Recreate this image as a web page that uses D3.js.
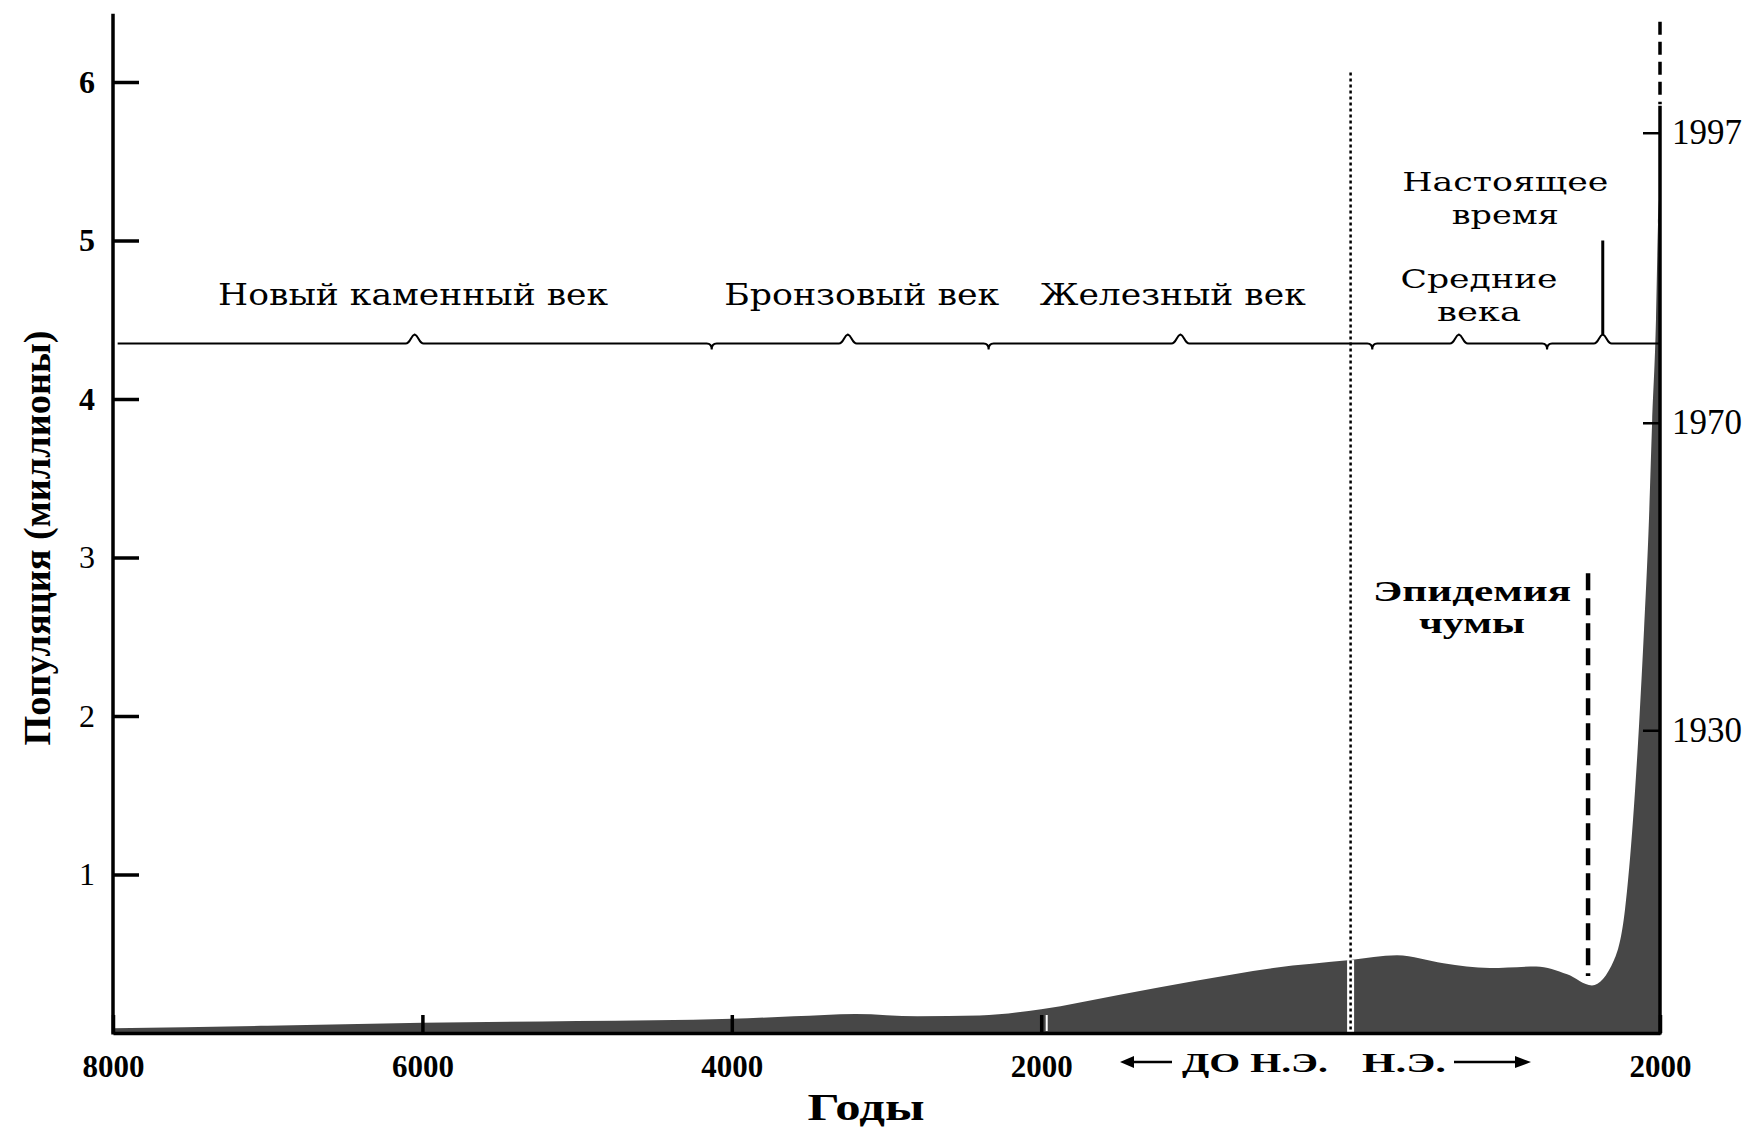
<!DOCTYPE html>
<html>
<head>
<meta charset="utf-8">
<script src="https://cdn.jsdelivr.net/npm/d3@7/dist/d3.min.js"></script>
<style>
  html, body { margin: 0; padding: 0; background: #fff; }
  svg { display: block; }
</style>
</head>
<body>
<svg id="chart" width="1756" height="1136"></svg>
<script>
// ---------- data ----------
const years = [-8000,-7000,-6000,-5000,-4000,-3600,-3200,-2800,-2400,-2000,-1500,-1000,-500,0,300,600,900,1200,1400,1560,1703,1774,1826,1865,1897,1929,1949,1974,1987,2000];
const population = [0.03,0.045,0.065,0.075,0.09,0.105,0.12,0.105,0.11,0.15,0.24,0.33,0.41,0.46,0.49,0.44,0.41,0.42,0.37,0.30,0.46,0.78,1.35,1.95,2.55,3.25,3.85,4.50,5.10,5.32];

const xTickValues = [-8000,-6000,-4000,-2000,2000];
const yTickValues = [1,2,3,4,5,6];
const rightTickValues = [1.91, 3.85, 5.68];
const rightTickLabels = ["1930","1970","1997"];

const eraNames = ["Новый каменный век","Бронзовый век","Железный век"];
const eraCenters = [-6060,-3160,-1150];
const braceTips = [-6050,-3250,-1100,700,1630];
const braceEnds = [-4130,-2340,140,1270];
const plagueYear = 1535;
const eraDivide = 0;

// ---------- scales ----------
const svg = d3.select("#chart");
const x = d3.scaleLinear().domain([-8000, 2000]).range([113, 1660]);
const y = d3.scaleLinear().domain([0, 6]).range([1033, 82]);

const serif = "'Liberation Serif', 'Times New Roman', serif";
const dserif = "'DejaVu Serif', serif";

const data = years.map((yr, i) => ({yr, v: population[i]}));

// ---------- area ----------
const area = d3.area()
  .x(d => x(d.yr))
  .y0(y(0))
  .y1(d => y(d.v))
  .curve(d3.curveMonotoneX);

svg.append("path")
  .datum(data)
  .attr("d", area)
  .attr("fill", "#474747");

// ---------- dotted line at year 0 ----------
const x0 = x(eraDivide);
const popAt0 = population[years.indexOf(0)];
svg.append("line")
  .attr("x1", x0).attr("x2", x0)
  .attr("y1", y(popAt0)).attr("y2", y(0))
  .attr("stroke", "#fff").attr("stroke-width", 7);
svg.append("line")
  .attr("x1", x0).attr("x2", x0)
  .attr("y1", y(6.06)).attr("y2", y(0))
  .attr("stroke", "#000").attr("stroke-width", 2.5)
  .attr("stroke-dasharray", "3 3");

// ---------- plague dashed line ----------
svg.append("line")
  .attr("x1", x(plagueYear)).attr("x2", x(plagueYear))
  .attr("y1", y(2.9)).attr("y2", y(0.36))
  .attr("stroke", "#000").attr("stroke-width", 4.5)
  .attr("stroke-dasharray", "17 8");

// ---------- axes ----------
const xAxis = d3.axisBottom(x)
  .tickValues(xTickValues)
  .tickSizeInner(-18).tickSizeOuter(0)
  .tickPadding(22)
  .tickFormat(d => String(Math.abs(d)));
const gx = svg.append("g").attr("transform", `translate(0,${y(0)})`).call(xAxis);
gx.select(".domain").attr("stroke", "#000").attr("stroke-width", 3.5);
gx.selectAll(".tick line").attr("stroke", "#000").attr("stroke-width", 3.5);
gx.selectAll(".tick").filter(d => d === -2000)
  .append("line").attr("x1", 5).attr("x2", 5).attr("y1", -2).attr("y2", -18)
  .attr("stroke", "#fff").attr("stroke-width", 2);
gx.selectAll(".tick text")
  .attr("font-family", serif).attr("font-weight", "bold")
  .attr("font-size", 31).attr("fill", "#000");

const yAxis = d3.axisLeft(y)
  .tickValues(yTickValues)
  .tickSizeInner(-26).tickSizeOuter(0)
  .tickPadding(18)
  .tickFormat(d3.format("d"));
const gy = svg.append("g").attr("transform", `translate(${x(-8000)},0)`).call(yAxis);
gy.select(".domain").remove();
gy.selectAll(".tick line").attr("stroke", "#000").attr("stroke-width", 3.5);
gy.selectAll(".tick text")
  .attr("font-family", serif)
  .attr("font-weight", d => d >= 4 ? "bold" : "normal")
  .attr("font-size", 32).attr("fill", "#000");
gy.append("line")
  .attr("x1", 0).attr("x2", 0)
  .attr("y1", y(6.43)).attr("y2", y(0) + 1.5)
  .attr("stroke", "#000").attr("stroke-width", 3.5);

// right axis
const yRight = d3.axisRight(y)
  .tickValues(rightTickValues)
  .tickSizeInner(-17).tickSizeOuter(0)
  .tickPadding(12)
  .tickFormat((d, i) => rightTickLabels[i]);
const gr = svg.append("g").attr("transform", `translate(${x(2000)},0)`).call(yRight);
gr.select(".domain").remove();
gr.selectAll(".tick line").attr("stroke", "#000").attr("stroke-width", 2.5);
gr.selectAll(".tick text")
  .attr("font-family", serif).attr("font-size", 35).attr("fill", "#000");
gr.append("line")
  .attr("x1", 0).attr("x2", 0)
  .attr("y1", y(5.85)).attr("y2", y(0) + 1.5)
  .attr("stroke", "#000").attr("stroke-width", 3.5);
gr.append("line")
  .attr("x1", 0).attr("x2", 0)
  .attr("y1", y(6.38)).attr("y2", y(5.86))
  .attr("stroke", "#000").attr("stroke-width", 3.5)
  .attr("stroke-dasharray", "13 7");

// ---------- era timeline ----------
const ly = y(4.35);
const feats = braceTips.map(t => ({px: x(t), type: "tip"}))
  .concat(braceEnds.map(t => ({px: x(t), type: "end"})))
  .sort((a, b) => a.px - b.px);
let p = `M${x(-7970)},${ly}`;
feats.forEach(f => {
  const X = f.px;
  if (f.type === "tip") {
    p += ` L${X-9},${ly} C${X-4},${ly} ${X-4},${ly-8} ${X},${ly-9} C${X+4},${ly-8} ${X+4},${ly} ${X+9},${ly}`;
  } else {
    p += ` L${X-5},${ly} Q${X},${ly} ${X},${ly+6} Q${X},${ly} ${X+5},${ly}`;
  }
});
p += ` L${x(2000)},${ly}`;
svg.append("path").attr("d", p)
  .attr("fill", "none").attr("stroke", "#000").attr("stroke-width", 2);

// present-time marker
svg.append("line")
  .attr("x1", x(1630)).attr("x2", x(1630))
  .attr("y1", ly - 9).attr("y2", y(5.0))
  .attr("stroke", "#000").attr("stroke-width", 3);

// era labels
const eraWidths = [390, 275, 266];
eraNames.forEach((name, i) => {
  svg.append("text")
    .attr("x", x(eraCenters[i])).attr("y", 305)
    .attr("text-anchor", "middle")
    .attr("font-family", dserif).attr("font-size", 29)
    .attr("textLength", eraWidths[i]).attr("lengthAdjust", "spacingAndGlyphs")
    .text(name);
});

function label(lines, cx, baselines, widths, opts) {
  lines.forEach((t, i) => {
    svg.append("text")
      .attr("x", cx).attr("y", baselines[i])
      .attr("text-anchor", "middle")
      .attr("font-family", opts.family).attr("font-size", opts.size)
      .attr("font-weight", opts.weight || "normal")
      .attr("textLength", widths[i]).attr("lengthAdjust", "spacingAndGlyphs")
      .text(t);
  });
}
label(["Средние","века"], x(830), [288, 321], [157, 84], {family: dserif, size: 26});
label(["Настоящее","время"], x(1000), [191, 224], [206, 107], {family: dserif, size: 26});
label(["Эпидемия","чумы"], x(785), [601, 633], [198, 106], {family: serif, size: 30, weight: "bold"});

// ---------- BC / AD ----------
const ay = 1062;
svg.append("text").attr("x", 1328).attr("y", 1072)
  .attr("text-anchor", "end")
  .attr("font-family", serif).attr("font-size", 28).attr("font-weight", "bold")
  .attr("textLength", 146).attr("lengthAdjust", "spacingAndGlyphs")
  .text("ДО Н.Э.");
svg.append("text").attr("x", 1362).attr("y", 1072)
  .attr("text-anchor", "start")
  .attr("font-family", serif).attr("font-size", 28).attr("font-weight", "bold")
  .attr("textLength", 84).attr("lengthAdjust", "spacingAndGlyphs")
  .text("Н.Э.");
svg.append("line").attr("x1", 1128).attr("x2", 1172).attr("y1", ay).attr("y2", ay)
  .attr("stroke", "#000").attr("stroke-width", 2.5);
svg.append("path").attr("d", `M1120,${ay} L1134,${ay-6} L1134,${ay+6} Z`).attr("fill", "#000");
svg.append("line").attr("x1", 1454).attr("x2", 1520).attr("y1", ay).attr("y2", ay)
  .attr("stroke", "#000").attr("stroke-width", 2.5);
svg.append("path").attr("d", `M1531,${ay} L1515,${ay-6} L1515,${ay+6} Z`).attr("fill", "#000");

// ---------- axis titles ----------
svg.append("text")
  .attr("x", 866).attr("y", 1120)
  .attr("text-anchor", "middle")
  .attr("font-family", serif).attr("font-size", 37).attr("font-weight", "bold")
  .attr("textLength", 117).attr("lengthAdjust", "spacingAndGlyphs")
  .text("Годы");

svg.append("text")
  .attr("transform", "translate(50,538) rotate(-90)")
  .attr("text-anchor", "middle")
  .attr("font-family", serif).attr("font-size", 37).attr("font-weight", "bold")
  .attr("textLength", 415).attr("lengthAdjust", "spacingAndGlyphs")
  .text("Популяция (миллионы)");
</script>
</body>
</html>
